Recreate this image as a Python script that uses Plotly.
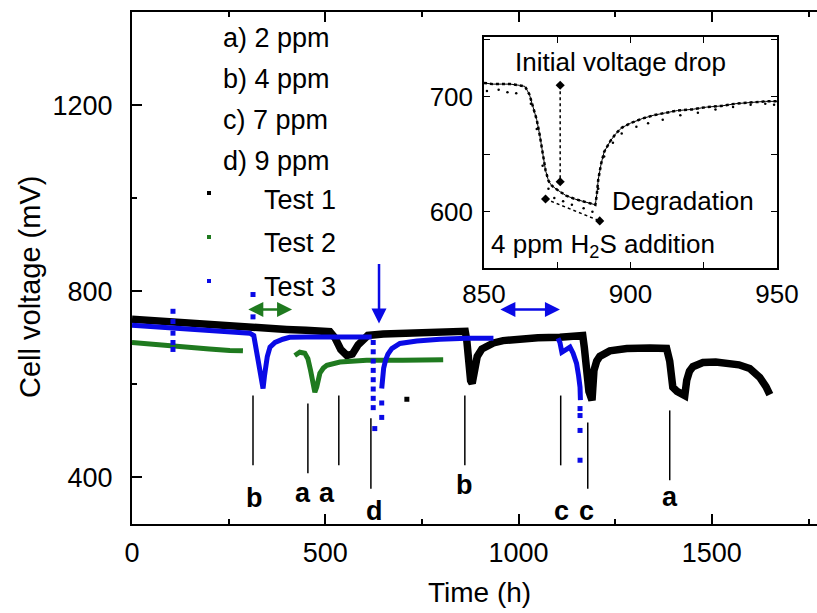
import plotly.graph_objects as go

FONT = "Liberation Sans, Arial, sans-serif"

# ---------------- main chart data (Time h, Cell voltage mV) ----------------
t1_x = [0, 50, 100, 150, 200, 250, 300, 350, 400, 450, 500, 512, 525, 540, 556, 570, 585, 600, 610,
        650, 700, 750, 800, 850, 862, 866, 871, 876, 880, 884, 888, 893, 905, 918, 935, 960, 1000,
        1050, 1107, 1166, 1170, 1176, 1182, 1190, 1192, 1195, 1202, 1210, 1236, 1280, 1340, 1383,
        1391, 1399, 1410, 1430, 1435, 1442, 1451, 1477, 1510, 1539, 1570, 1598, 1624, 1640, 1650]
t1_y = [740, 737, 733, 731, 728, 725, 722, 720, 718, 716, 714, 713, 700, 675, 662, 665, 685, 700, 705,
        708, 710, 711, 712, 714, 714, 695, 640, 608, 602, 615, 640, 660, 676, 682, 689, 694, 698,
        700, 701, 705, 680, 620, 585, 566, 600, 630, 650, 660, 672, 677, 678, 677,
        650, 594, 585, 576, 609, 628, 638, 647, 648, 646, 642, 634, 615, 595, 578]
t1_dot_x = [711]
t1_dot_y = [568]

t2a_x = [0, 50, 106, 150, 200, 253, 287]
t2a_y = [690, 686, 681, 678, 676, 673, 672]
t2b_x = [421, 434, 447, 455, 462, 468, 473, 478, 486, 495, 504, 538, 607, 700, 805]
t2b_y = [662, 669, 667, 655, 630, 600, 583, 595, 624, 635, 641, 648, 652, 652, 653]

t3a_x = [0, 50, 100, 150, 200, 250, 305, 315, 320, 328, 335, 339, 343, 350, 357, 370, 390, 408,
         450, 512, 560, 620]
t3a_y = [727, 724, 721, 719, 716, 713, 710, 705, 680, 630, 595, 591, 620, 660, 680, 690, 697, 701,
         702, 702, 702, 702]
t3b_x = [646, 648, 651, 656, 662, 672, 693, 737, 796, 866, 935]
t3b_y = [591, 610, 635, 652, 665, 677, 688, 693, 697, 699, 699]
t3c_x = [1102, 1107, 1112, 1125, 1133, 1141, 1150, 1155, 1159, 1160]
t3c_y = [699, 690, 669, 675, 680, 667, 645, 620, 594, 566]
t3_dot_x = [106, 106, 106, 106, 106, 313, 313, 624, 624, 624, 624, 624, 624, 624, 624, 628,
            646, 646, 1159, 1159, 1159, 1159]
t3_dot_y = [757, 735, 710, 690, 675, 793, 745, 690, 670, 650, 630, 610, 590, 570, 550, 505,
            529, 560, 548, 533, 501, 437]

# H2S injection markers
mark_x = [313, 455, 535, 618, 861, 1109, 1179, 1391]
mark_top = [576, 559, 576, 527, 576, 576, 518, 544]
mark_bot = [426, 409, 426, 376, 426, 426, 376, 394]
mark_lbl = ["b", "a", "a", "d", "b", "c", "c", "a"]
lbl_x = [318, 442, 504, 628, 861, 1112, 1177, 1391]
lbl_y = [355, 366, 366, 329, 383, 329, 329, 357]

legend_conc = ["a) 2 ppm", "b) 4 ppm", "c) 7 ppm", "d) 9 ppm"]
legend_tests = ["Test 1", "Test 2", "Test 3"]
test_colors = ["#000000", "#1f7a1f", "#0a0ae6"]

# ---------------- inset data ----------------
in_x = [850, 853, 856, 859, 862, 864, 865.5, 867, 868, 869, 870, 871, 872, 873, 875, 878, 881,
        884, 887, 888, 888.5, 889, 890, 891, 893, 895, 897, 900, 904, 908, 912, 916, 921, 926,
        931, 936, 941, 946, 950]
in_y = [712, 711, 711, 711, 710, 709, 702, 690, 680, 667, 650, 636, 627, 623, 619, 614, 611,
        609, 607, 606, 615, 628, 642, 652, 661, 668, 673, 677, 681, 684, 686, 688, 689, 691,
        692, 694, 695, 696, 696]
in2_x = [851, 855, 858, 861, 866, 868, 870, 872, 874, 877, 880, 884, 887, 889, 891, 894, 897,
         902, 906, 911, 917, 923, 929, 935, 941, 946, 949]
in2_y = [705, 706, 704, 703, 694, 672, 640, 620, 612, 609, 606, 603, 600, 620, 648, 660, 668,
         674, 677, 680, 684, 686, 689, 691, 693, 694, 693]
drop_x = [876, 876]
drop_y = [710, 626]
deg_x = [871, 889.5]
deg_y = [611, 592]

fig = go.Figure()

fig.add_trace(go.Scatter(x=t1_x, y=t1_y, mode="lines", line=dict(color=test_colors[0], width=7.5),
                         showlegend=False))
fig.add_trace(go.Scatter(x=t1_dot_x, y=t1_dot_y, mode="markers",
                         marker=dict(color=test_colors[0], size=5, symbol="square"), showlegend=False))
for xs, ys in [(t2a_x, t2a_y), (t2b_x, t2b_y)]:
    fig.add_trace(go.Scatter(x=xs, y=ys, mode="lines", line=dict(color=test_colors[1], width=5),
                             showlegend=False))
for xs, ys in [(t3a_x, t3a_y), (t3b_x, t3b_y), (t3c_x, t3c_y)]:
    fig.add_trace(go.Scatter(x=xs, y=ys, mode="lines", line=dict(color=test_colors[2], width=5),
                             showlegend=False))
fig.add_trace(go.Scatter(x=t3_dot_x, y=t3_dot_y, mode="markers",
                         marker=dict(color=test_colors[2], size=5, symbol="square"), showlegend=False))

# inset traces
fig.add_trace(go.Scatter(x=in2_x, y=in2_y, mode="markers", xaxis="x2", yaxis="y2",
                         marker=dict(color="black", size=2.5), showlegend=False))
fig.add_trace(go.Scatter(x=in_x, y=in_y, mode="lines", xaxis="x2", yaxis="y2",
                         line=dict(color="black", width=2.5, dash="dot"), showlegend=False))
fig.add_trace(go.Scatter(x=in_x, y=in_y, mode="lines", xaxis="x2", yaxis="y2",
                         line=dict(color="black", width=1), showlegend=False))
for xs, ys in [(drop_x, drop_y), (deg_x, deg_y)]:
    fig.add_trace(go.Scatter(x=xs, y=ys, mode="lines+markers", xaxis="x2", yaxis="y2",
                             line=dict(color="black", width=1.5, dash="dot"),
                             marker=dict(symbol="diamond", size=7, color="black"), showlegend=False))

shapes = []
for x, y0, y1 in zip(mark_x, mark_bot, mark_top):
    shapes.append(dict(type="line", xref="x", yref="y", x0=x, x1=x, y0=y0, y1=y1,
                       line=dict(color="black", width=1.5)))

# legend markers (small squares)
leg_marker_y = [193, 237, 281]
for py, c in zip(leg_marker_y, test_colors):
    shapes.append(dict(type="rect", xref="paper", yref="paper",
                       x0=(207 - 132) / 685, x1=(211 - 132) / 685,
                       y0=(524 - py - 2) / 512, y1=(524 - py + 2) / 512,
                       fillcolor=c, line=dict(width=0)))

ann = []
for x, y, t in zip(lbl_x, lbl_y, mark_lbl):
    ann.append(dict(x=x, y=y, xref="x", yref="y", text=t, showarrow=False,
                    font=dict(family=FONT, size=27, color="black", weight="bold")))

leg_conc_y = [38, 79, 120, 161]
for py, t in zip(leg_conc_y, legend_conc):
    ann.append(dict(x=(221 - 132) / 685, y=(524 - py) / 512, xref="paper", yref="paper",
                    text=t, showarrow=False, xanchor="left", yanchor="middle",
                    font=dict(family=FONT, size=27, color="black")))
leg_test_y = [200, 243, 287]
for py, t in zip(leg_test_y, legend_tests):
    ann.append(dict(x=(262 - 132) / 685, y=(524 - py) / 512, xref="paper", yref="paper",
                    text=t, showarrow=False, xanchor="left", yanchor="middle",
                    font=dict(family=FONT, size=27, color="black")))

# arrows
ann.append(dict(x=414, y=761, ax=297, ay=761, xref="x", yref="y", axref="x", ayref="y", text="",
                showarrow=True, arrowside="end+start", arrowhead=2, arrowsize=1.2, arrowwidth=2.5,
                arrowcolor=test_colors[1]))
ann.append(dict(x=1107, y=761, ax=949, ay=761, xref="x", yref="y", axref="x", ayref="y", text="",
                showarrow=True, arrowside="end+start", arrowhead=2, arrowsize=1.2, arrowwidth=2.5,
                arrowcolor=test_colors[2]))
ann.append(dict(x=639, y=731, ax=639, ay=862, xref="x", yref="y", axref="x", ayref="y", text="",
                showarrow=True, arrowhead=2, arrowsize=1.2, arrowwidth=2.5, arrowcolor=test_colors[2]))

# inset annotations
ann.append(dict(x=896.5, y=730, xref="x2", yref="y2", text="Initial voltage drop", showarrow=False,
                font=dict(family=FONT, size=26, color="black")))
ann.append(dict(x=918, y=609, xref="x2", yref="y2", text="Degradation", showarrow=False,
                font=dict(family=FONT, size=26, color="black")))
ann.append(dict(x=890.5, y=571, xref="x2", yref="y2", text="4 ppm H<sub>2</sub>S addition",
                showarrow=False, font=dict(family=FONT, size=26, color="black")))

# axis titles
ann.append(dict(x=(480 - 132) / 685, y=(524 - 592) / 512, xref="paper", yref="paper", text="Time (h)",
                showarrow=False, xanchor="center", yanchor="middle",
                font=dict(family=FONT, size=28, color="black")))
ann.append(dict(x=(30 - 132) / 685, y=(524 - 287) / 512, xref="paper", yref="paper",
                text="Cell voltage (mV)", textangle=-90, showarrow=False,
                xanchor="center", yanchor="middle",
                font=dict(family=FONT, size=29, color="black")))

fig.update_layout(
    width=817, height=613,
    margin=dict(l=132, r=0, t=12, b=89, autoexpand=False),
    paper_bgcolor="white", plot_bgcolor="white",
    font=dict(family=FONT, size=27, color="black"),
    shapes=shapes, annotations=ann,
    xaxis=dict(range=[0, 1772], tickvals=[0, 500, 1000, 1500], ticks="inside", ticklen=10,
               tickwidth=1.5, tickcolor="black", showline=True, linecolor="black", linewidth=2,
               mirror="ticks", showgrid=False, zeroline=False, ticklabelstandoff=4, automargin=False,
               minor=dict(dtick=250, ticks="inside", ticklen=5, tickcolor="black", showgrid=False),
               tickfont=dict(family=FONT, size=27)),
    yaxis=dict(range=[300, 1400], tickvals=[400, 800, 1200], ticks="inside", ticklen=10,
               tickwidth=1.5, tickcolor="black", showline=True, linecolor="black", linewidth=2,
               mirror=False, showgrid=False, zeroline=False, ticklabelstandoff=12, automargin=False,
               minor=dict(dtick=200, ticks="inside", ticklen=5, tickcolor="black", showgrid=False),
               tickfont=dict(family=FONT, size=27)),
    xaxis2=dict(domain=[(484 - 132) / 685, (777 - 132) / 685], anchor="y2", range=[850, 950],
                tickvals=[850, 900, 950], ticks="inside", ticklen=6, tickcolor="black",
                showline=True, linecolor="black", linewidth=1.5, mirror="ticks", showgrid=False,
                zeroline=False, ticklabelstandoff=2, automargin=False,
                minor=dict(dtick=25, ticks="inside", ticklen=6, tickcolor="black", showgrid=False),
                tickfont=dict(family=FONT, size=26)),
    yaxis2=dict(domain=[(524 - 268) / 512, (524 - 37) / 512], anchor="x2", range=[551, 752],
                tickvals=[600, 700], ticks="inside", ticklen=6, tickcolor="black",
                showline=True, linecolor="black", linewidth=1.5, mirror="ticks", showgrid=False,
                zeroline=False, ticklabelstandoff=4, automargin=False,
                minor=dict(dtick=50, ticks="inside", ticklen=6, tickcolor="black", showgrid=False),
                tickfont=dict(family=FONT, size=26)),
)

fig.write_html("out.html", config={"displayModeBar": False},
               post_script="document.body.style.margin='0px';")
